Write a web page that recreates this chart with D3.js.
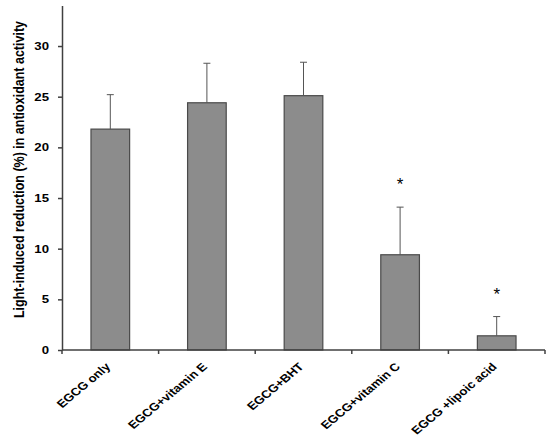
<!DOCTYPE html>
<html lang="en">
<head>
<meta charset="utf-8">
<title>Light-induced reduction in antioxidant activity</title>
<script src="https://d3js.org/d3.v7.min.js"></script>
<style>
    body { margin: 0; background: white; }
    svg text { font-family: "Liberation Sans", Arial, sans-serif; font-weight: bold; fill: black; }
</style>
</head>
<body>
<script>
    // values
    let groups = ["EGCG only", "EGCG+vitamin E", "EGCG+BHT", "EGCG+vitamin C", "EGCG +lipoic acid"]
    let means = [21.8, 24.4, 25.1, 9.4, 1.4]
    let errors = [3.4, 3.9, 3.3, 4.7, 1.9]
    let significant = [false, false, false, true, true]
    let yTicks = [0, 5, 10, 15, 20, 25, 30]

    let width = 550
    let height = 445
    let plotLeft = 62, plotRight = 545, plotTop = 5.5, plotBottom = 350
    let stretch = 1.2   // the original picture is a bit wider than tall, text looks stretched

    let svg = d3.select("body").append("svg")
        .attr("width", width)
        .attr("height", height)

    let xScale = d3.scaleBand()
        .domain(groups)
        .range([plotLeft, plotRight])
        .paddingInner(0.6)
        .paddingOuter(0.3)

    let yScale = d3.scaleLinear()
        .domain([0, 34])
        .range([plotBottom, plotTop])

    // bars
    svg.selectAll("rect.bar")
        .data(groups)
        .enter()
        .append("rect")
        .attr("class", "bar")
        .attr("x", d => xScale(d))
        .attr("y", (d, i) => yScale(means[i]))
        .attr("width", xScale.bandwidth())
        .attr("height", (d, i) => yScale(0) - yScale(means[i]))
        .attr("fill", "#8c8c8c")
        .attr("stroke", "#4a4a4a")
        .attr("stroke-width", 1.2)

    // error bars (upper only)
    let cx = d => xScale(d) + xScale.bandwidth() / 2
    svg.selectAll("line.err")
        .data(groups)
        .enter()
        .append("line")
        .attr("class", "err")
        .attr("x1", cx).attr("x2", cx)
        .attr("y1", (d, i) => yScale(means[i]))
        .attr("y2", (d, i) => yScale(means[i] + errors[i]))
        .attr("stroke", "#555")
        .attr("stroke-width", 1)
    svg.selectAll("line.cap")
        .data(groups)
        .enter()
        .append("line")
        .attr("class", "cap")
        .attr("x1", d => cx(d) - 3.5).attr("x2", d => cx(d) + 3.5)
        .attr("y1", (d, i) => yScale(means[i] + errors[i]))
        .attr("y2", (d, i) => yScale(means[i] + errors[i]))
        .attr("stroke", "#555")
        .attr("stroke-width", 1)

    // asterisks
    svg.selectAll("text.star")
        .data(groups.filter((d, i) => significant[i]))
        .enter()
        .append("text")
        .attr("class", "star")
        .attr("x", cx)
        .attr("y", d => yScale(means[groups.indexOf(d)] + errors[groups.indexOf(d)]) - 17)
        .attr("text-anchor", "middle")
        .attr("font-size", 17)
        .style("font-weight", "normal")
        .text("*")

    // y axis
    let yAxis = d3.axisLeft(yScale)
        .tickValues(yTicks)
        .tickSizeInner(4)
        .tickSizeOuter(0)
    let gy = svg.append("g")
        .attr("transform", `translate(${plotLeft},0)`)
        .call(yAxis)
    gy.attr("font-family", null).attr("font-size", null)
    gy.selectAll("text")
        .attr("font-size", 11)
        .attr("x", 0)
        .attr("transform", `translate(-13,0) scale(${stretch},1)`)
    gy.selectAll("path, line").attr("stroke", "#404040").attr("stroke-width", 1.5)

    // x axis
    let gx = svg.append("g")
        .attr("transform", `translate(0,${plotBottom})`)
    gx.append("line")
        .attr("x1", plotLeft).attr("x2", plotRight)
        .attr("stroke", "#404040").attr("stroke-width", 1.5)
    let step = xScale.step()
    let boundaries = d3.range(groups.length + 1).map(i => plotLeft + i * step)
    gx.selectAll("line.tick")
        .data(boundaries)
        .enter()
        .append("line")
        .attr("class", "tick")
        .attr("x1", d => d).attr("x2", d => d)
        .attr("y1", 0).attr("y2", 4)
        .attr("stroke", "#404040").attr("stroke-width", 1.5)
    gx.selectAll("text")
        .data(groups)
        .enter()
        .append("text")
        .attr("transform", d => `translate(${cx(d) + 1},17.5) scale(${stretch},1) rotate(-45)`)
        .attr("text-anchor", "end")
        .attr("font-size", 11)
        .text(d => d)

    // y title
    svg.append("text")
        .attr("transform", `translate(23.5,169.5) scale(${stretch},1) rotate(-90)`)
        .attr("text-anchor", "middle")
        .attr("font-size", 12.5)
        .text("Light-induced reduction (%) in antioxidant activity")
</script>
</body>
</html>
